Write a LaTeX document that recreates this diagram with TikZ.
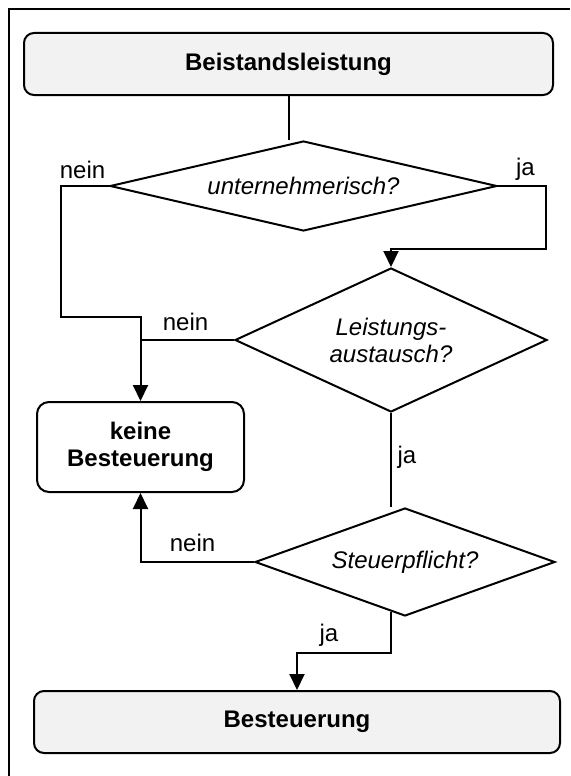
\documentclass[tikz,border=0pt]{standalone}
\usepackage{fontspec}
\setmainfont{Liberation Sans}
\usetikzlibrary{shapes.geometric,arrows.meta,calc}
\definecolor{boxgray}{HTML}{F2F2F2}
\begin{document}
\begin{tikzpicture}[x=1pt,y=-1pt,
  every node/.style={font=\fontsize{24}{27}\selectfont},
  box/.style={draw,line width=2pt,rounded corners=10pt,align=center,inner sep=0pt,font=\fontsize{24}{27}\selectfont\bfseries},
  decision/.style={draw,diamond,line width=2pt,inner sep=0pt,align=center,font=\fontsize{24}{27}\selectfont\itshape,fill=white},
  conn/.style={line width=2pt},
  arr/.style={conn,-{Triangle[width=15pt,length=16pt]}},
  lbl/.style={anchor=base,inner sep=0pt}]
\useasboundingbox (0,0) rectangle (570,776);
\draw[line width=1.2pt] (9,776) -- (9,9) -- (570,9);

\node[box,fill=boxgray,minimum width=529pt,minimum height=62pt] (top) at (288.5,64) {Beistandsleistung};
\node[decision,minimum width=387pt,minimum height=90pt,aspect=4.3] (d1) at (303.5,186) {unternehmerisch?};
\node[decision,minimum width=312pt,minimum height=144pt,aspect=2.17] (d2) at (391,340) {Leistungs-\\austausch?};
\node[decision,minimum width=300pt,minimum height=108pt,aspect=2.78] (d3) at (405,562) {Steuerpflicht?};
\node[box,rounded corners=12pt,minimum width=207pt,minimum height=90pt] (kb) at (140.5,447) {keine\\Besteuerung};
\node[box,fill=boxgray,minimum width=526pt,minimum height=62pt] (bst) at (297,722) {Besteuerung};

\coordinate (c1) at (61,317);
\coordinate (c2) at (546,249);
\coordinate (c3) at (391,653);
\coordinate (s3) at ($(d2.south |- d3.south)+(0,-5)$);

\draw[conn] (top.south) -- (top.south |- d1.north);
\draw[arr] (d1.west) -| (c1) -| (kb.north);
\draw[arr] (d1.east) -| (c2) -| (d2.north);
\draw[conn] (d2.west) -- (d2.west -| kb.north);
\draw[conn] (d2.south) -- (d2.south |- d3.north);
\draw[arr] (d3.west) -| (kb.south);
\draw[arr] (s3) -- (c3) -| (bst.north);

\node[lbl] (n1) at (82.5,178) {nein};
\node[lbl] (j1) at (525.5,175) {ja};
\node[lbl] (n2) at (185.5,330) {nein};
\node[lbl] (j2) at (407,463) {ja};
\node[lbl] (n3) at (192.5,551) {nein};
\node[lbl] (j3) at (329,641) {ja};
\end{tikzpicture}
\end{document}
